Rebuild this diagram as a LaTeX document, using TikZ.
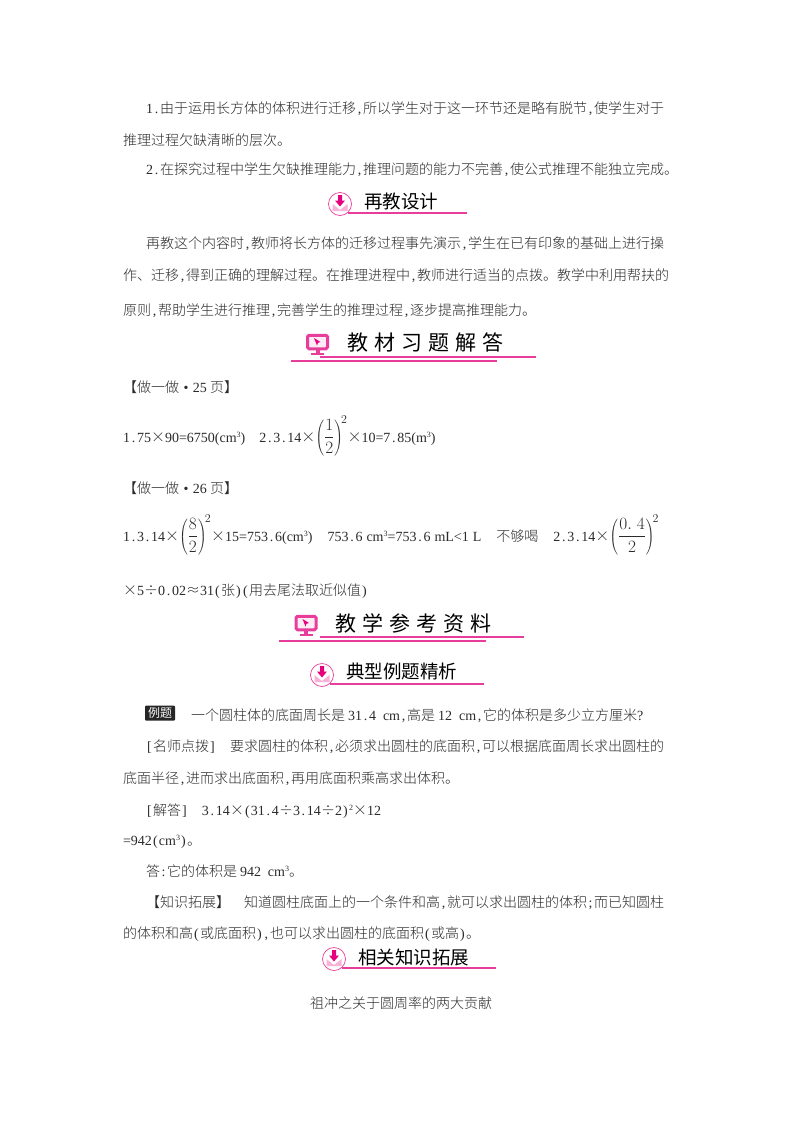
\documentclass[tikz,border=0pt]{standalone}
\usepackage{fontspec}
\setmainfont{Liberation Serif}
\newfontfamily\zhf{Noto Sans CJK SC}[UprightFont={* Light},BoldFont={* Medium}]
\newfontfamily\zhh{Noto Sans CJK SC}
\newcommand\zh[1]{{\zhf #1}}
\newcommand\hw[1]{\makebox[7pt]{#1}}
\newcommand\dt{\hw{.}}
\newcommand\cmm{\hw{,}}
\newcommand\lp{\hw{(}}
\newcommand\rp{\hw{)}}
\newcommand\sq[1]{\raisebox{4.5pt}{\fontsize{8}{8}\selectfont #1}}
\newcommand\mfrac[1]{{\fontsize{16.5}{18}\selectfont$\displaystyle #1$}}
\definecolor{pk}{HTML}{E6007E}
\definecolor{pl}{HTML}{E83E9B}
\definecolor{tc}{HTML}{2B2B2B}
\usetikzlibrary{calc}
\tikzset{
  txt/.style={anchor=base west,inner sep=0pt,outer sep=0pt,text=tc,font=\fontsize{14}{16}\selectfont},
  headA/.style={anchor=base west,inner sep=0pt,text=black,font=\zhh\fontsize{18.5}{20}\selectfont},
  headB/.style={anchor=base west,inner sep=0pt,text=black,font=\zhh\fontsize{21}{22}\selectfont},
  rule/.style={draw=pl,line width=1.25pt},
}
\newcommand\circicon[3]{% name, x, y
  \node[circle,draw=pl,fill=white,line width=0.7pt,minimum size=23pt,inner sep=0pt] (#1) at (#2,#3) {};
  \fill[pk!30] ($(#1)+(-7.5,0)$) -- ($(#1)+(0,6)$) -- ($(#1)+(7.5,0)$) -- ($(#1)+(7.5,7)$) -- ($(#1)+(-7.5,7)$) -- cycle;
  \fill[pk] ($(#1)+(-2,-9)$) -- ($(#1)+(2,-9)$) -- ($(#1)+(2,-3.5)$) -- ($(#1)+(5,-3.5)$) -- ($(#1)+(0,2.5)$) -- ($(#1)+(-5,-3.5)$) -- ($(#1)+(-2,-3.5)$) -- cycle;
}
\newcommand\monicon[3]{% name, x, y
  \node[rectangle,rounded corners=1.5pt,draw=pl,fill=pk!8,line width=3pt,minimum width=20pt,minimum height=13.5pt,inner sep=0pt] (#1) at (#2,#3) {};
  \fill[pl] ($(#1)+(-2,8)$) rectangle ($(#1)+(2,10.5)$);
  \fill[pl] ($(#1)+(-6.5,10.5)$) rectangle ($(#1)+(6.5,13)$);
  \fill[pk] ($(#1)+(-3.5,-4)$) -- ($(#1)+(3,0)$) -- ($(#1)+(0.5,0.8)$) -- ($(#1)+(-0.5,3.5)$) -- cycle;
}
\begin{document}
\begin{tikzpicture}[x=1pt,y=-1pt]
\useasboundingbox (0,0) rectangle (800,1132);
\fill[white] (0,0) rectangle (800,1132);

\node[txt] (l1) at (146,113) {1\dt\zh{由于运用长方体的体积进行迁移}\cmm\zh{所以学生对于这一环节还是略有脱节}\cmm\zh{使学生对于}};
\node[txt] (l2) at (123,145) {\zh{推理过程欠缺清晰的层次。}};
\node[txt] (l3) at (146,174) {2\dt\zh{在探究过程中学生欠缺推理能力}\cmm\zh{推理问题的能力不完善}\cmm\zh{使公式推理不能独立完成。}};

\circicon{i1}{340}{204}
\node[headA] (h1) at (364,208) {再教设计};
\draw[rule] ($(i1)+(8,9)$) -- ($(i1)+(127,9)$);

\node[txt] (p1) at (146,248) {\zh{再教这个内容时}\cmm\zh{教师将长方体的迁移过程事先演示}\cmm\zh{学生在已有印象的基础上进行操}};
\node[txt] (p2) at (123,280) {\zh{作、迁移}\cmm\zh{得到正确的理解过程。在推理进程中}\cmm\zh{教师进行适当的点拨。教学中利用帮扶的}};
\node[txt] (p3) at (123,315) {\zh{原则}\cmm\zh{帮助学生进行推理}\cmm\zh{完善学生的推理过程}\cmm\zh{逐步提高推理能力。}};

\monicon{m1}{317.5}{342}
\node[headB] (b1) at (347,350) {教\hspace{6pt}材\hspace{6pt}习\hspace{6pt}题\hspace{6pt}解\hspace{6pt}答};
\coordinate (b1a) at (320,357); \coordinate (b1b) at (536,357);
\coordinate (b1c) at (291,361); \coordinate (b1d) at (497,361);
\draw[rule] (b1a) -- (b1b);
\draw[rule] (b1c) -- (b1d);

\node[txt] (t1) at (123,392) {\zh{【做一做}\makebox[14pt]{\textbullet}25\hspace{3pt}\zh{页】}};
\node[txt] (f1) at (123,442) {1\dt75\zh{×}90=6750(cm\sq{3})\hspace{14pt}2\dt3\dt14\zh{×}\mfrac{\left(\frac{1}{2}\right)^{\!2}}\zh{×}10=7\dt85(m\sq{3})};
\node[txt] (t2) at (123,493) {\zh{【做一做}\makebox[14pt]{\textbullet}26\hspace{3pt}\zh{页】}};
\node[txt] (f2) at (123,541) {1\dt3\dt14\zh{×}\mfrac{\left(\frac{8}{2}\right)^{\!2}}\zh{×}15=753\dt6(cm\sq{3})\hspace{15pt}753\dt6\hspace{4pt}cm\sq{3}=753\dt6\hspace{4pt}mL<1\hspace{4pt}L\hspace{15pt}\zh{不够喝}\hspace{15pt}2\dt3\dt14\zh{×}\mfrac{\left(\frac{0.\;4}{2}\right)^{\!2}}};
\node[txt] (f3) at (123,595) {\zh{×}5\zh{÷}0\dt02\zh{≈}31\lp\zh{张}\rp\lp\zh{用去尾法取近似值}\rp};

\monicon{m2}{306}{623}
\node[headB] (b2) at (335,631) {教\hspace{6pt}学\hspace{6pt}参\hspace{6pt}考\hspace{6pt}资\hspace{6pt}料};
\coordinate (b2a) at (320,637); \coordinate (b2b) at (524,637);
\coordinate (b2c) at (279,641); \coordinate (b2d) at (486,641);
\draw[rule] (b2a) -- (b2b);
\draw[rule] (b2c) -- (b2d);

\circicon{i2}{322}{675}
\node[headA] (h2) at (346,678) {典型例题精析};
\draw[rule] ($(i2)+(8,9)$) -- ($(i2)+(162,9)$);

\node[anchor=center,fill=black!85,rounded corners=1pt,text=white,inner sep=1.5pt,minimum width=30pt,minimum height=15pt,font=\zhh\fontsize{12}{13}\selectfont] (tag) at (160,713) {例题};
\node[txt] (e1t) at (191,720) {\zh{一个圆柱体的底面周长是}\hspace{3pt}31\dt4\hspace{7pt}cm\cmm\zh{高是}\hspace{3pt}12\hspace{7pt}cm\cmm\zh{它的体积是多少立方厘米}?};
\node[txt] (e2) at (146,751) {\hw{[}\zh{名师点拨}\hw{]}\hspace{14pt}\zh{要求圆柱的体积}\cmm\zh{必须求出圆柱的底面积}\cmm\zh{可以根据底面周长求出圆柱的}};
\node[txt] (e3) at (123,783) {\zh{底面半径}\cmm\zh{进而求出底面积}\cmm\zh{再用底面积乘高求出体积。}};
\node[txt] (e4) at (146,815) {\hw{[}\zh{解答}\hw{]}\hspace{14pt}3\dt14\zh{×}\lp 31\dt4\zh{÷}3\dt14\zh{÷}2\rp\sq{2}\zh{×}12};
\node[txt] (e5) at (123,845) {=942\lp cm\sq{3}\rp\zh{。}};
\node[txt] (e6) at (146,876) {\zh{答}\hw{:}\zh{它的体积是}\hspace{3pt}942\hspace{7pt}cm\sq{3}\zh{。}};
\node[txt] (e7) at (146,907) {\zh{【知识拓展】}\hspace{14pt}\zh{知道圆柱底面上的一个条件和高}\cmm\zh{就可以求出圆柱的体积}\hw{;}\zh{而已知圆柱}};
\node[txt] (e8) at (123,938) {\zh{的体积和高}\lp\zh{或底面积}\rp\cmm\zh{也可以求出圆柱的底面积}\lp\zh{或高}\rp\zh{。}};

\circicon{i3}{334}{959}
\node[headA] (h3) at (358,964) {相关知识拓展};
\draw[rule] ($(i3)+(8,9)$) -- ($(i3)+(162,9)$);

\node[txt] (e9) at (310,1008) {\zh{祖冲之关于圆周率的两大贡献}};
\end{tikzpicture}
\end{document}
